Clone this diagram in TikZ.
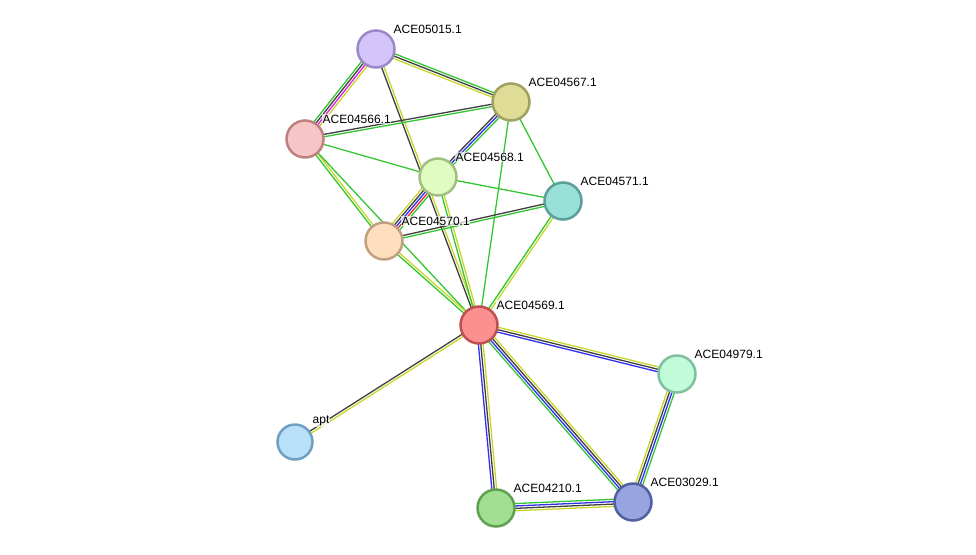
\documentclass[tikz,border=0pt]{standalone}
\usepackage{fontspec}
\setmainfont{Liberation Sans}
\usetikzlibrary{calc,backgrounds}
\definecolor{eg}{HTML}{33C633}
\definecolor{ey}{HTML}{C8D62A}
\definecolor{ek}{HTML}{404040}
\definecolor{eb}{HTML}{3030F0}
\definecolor{em}{HTML}{E020E0}
\definecolor{er}{HTML}{E03030}
\tikzset{
  prot/.style={circle,minimum size=37pt,inner sep=0pt,line width=2.5pt},
  lab/.style={anchor=south west,font=\fontsize{12}{14}\selectfont,inner sep=0.5pt,fill=white,fill opacity=0.7,text opacity=1},
}
\newcommand\edg[4]{%
  \foreach \c [count=\i] in {#4}{%
    \pgfmathsetmacro\o{(\i-(#3+1)/2)*2.4}%
    \draw[\c,line width=1.3pt] ($(#1.center)!\o pt!90:(#2.center)$) -- ($(#2.center)!\o pt!-90:(#1.center)$);
  }}
\newcommand\prot[5]{%
  \definecolor{f#1}{HTML}{#4}\definecolor{d#1}{HTML}{#5}%
  \node[prot,fill=f#1,draw=d#1] (#1) at (#2,#3) {};
  \node[lab] (#1l) at ($(#1)+(17,-15)$) {#1.1};}
\definecolor{faptc}{HTML}{B8E0F8}
\definecolor{daptc}{HTML}{6FA0C0}
\begin{document}
\begin{tikzpicture}[x=1pt,y=-1pt]
\useasboundingbox (0,0) rectangle (976,554);
\prot{ACE05015}{376}{49}{D3C4FA}{9C87C9}
\prot{ACE04567}{511}{102}{DEDC97}{A0A060}
\prot{ACE04566}{305}{139}{F6C6C6}{C08080}
\prot{ACE04568}{438}{177}{E0FCC0}{A0C080}
\prot{ACE04571}{563}{201}{98E0D8}{5AA098}
\prot{ACE04570}{384}{241}{FDDFC0}{C0A080}
\prot{ACE04569}{479}{325}{FC9090}{C05050}
\prot{ACE04979}{677}{374}{C0FCD8}{80C0A0}
\prot{ACE04210}{496}{508}{A0E090}{60A050}
\prot{ACE03029}{633}{502}{98A4E0}{5060A0}
\node[prot,minimum size=35pt,fill=faptc,draw=daptc] (apt) at (295,442) {};
\node[lab] (aptl) at ($(apt)+(17,-15)$) {apt};
\begin{scope}[on background layer]
\edg{ACE05015}{ACE04566}{4}{eg,ek,em,ey}
\edg{ACE05015}{ACE04567}{3}{ey,ek,eg}
\edg{ACE05015}{ACE04569}{2}{ek,ey}
\edg{ACE04566}{ACE04567}{2}{eg,ek}
\edg{ACE04566}{ACE04568}{1}{eg}
\edg{ACE04566}{ACE04570}{2}{eg,ey}
\edg{ACE04566}{ACE04569}{1}{eg}
\edg{ACE04567}{ACE04568}{3}{ek,eb,eg}
\edg{ACE04568}{ACE04570}{5}{ey,ek,eb,er,eg}
\edg{ACE04567}{ACE04571}{1}{eg}
\edg{ACE04567}{ACE04569}{1}{eg}
\edg{ACE04568}{ACE04571}{1}{eg}
\edg{ACE04568}{ACE04569}{2}{eg,ey}
\edg{ACE04570}{ACE04571}{2}{eg,ek}
\edg{ACE04570}{ACE04569}{2}{eg,ey}
\edg{ACE04571}{ACE04569}{2}{eg,ey}
\edg{ACE04569}{ACE04979}{3}{eb,ek,ey}
\edg{ACE04569}{ACE04210}{3}{eb,ek,ey}
\edg{ACE04569}{ACE03029}{4}{eg,eb,ek,ey}
\edg{ACE04569}{apt}{2}{ek,ey}
\edg{ACE04979}{ACE03029}{4}{ey,ek,eb,eg}
\edg{ACE04210}{ACE03029}{4}{ey,ek,eb,eg}
\end{scope}
\end{tikzpicture}
\end{document}
